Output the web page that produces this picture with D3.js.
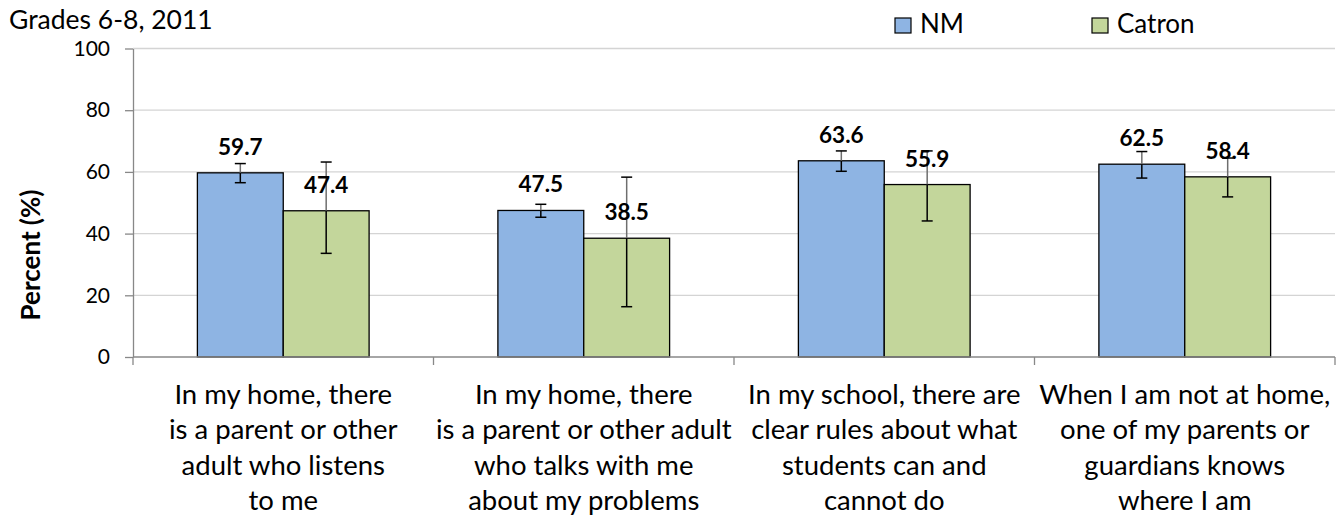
<!DOCTYPE html>
<html>
<head>
<meta charset="utf-8">
<script src="https://cdn.jsdelivr.net/npm/d3@7"></script>
<style>
  html, body { margin: 0; padding: 0; background: #fff; }
  svg { display: block; font-family: Lato, "Open Sans", sans-serif; }
</style>
</head>
<body>
<svg id="chart" width="1343" height="519"></svg>
<script>
// ---- data ----
const categories = [
  ["In my home, there", "is a parent or other", "adult who listens", "to me"],
  ["In my home, there", "is a parent or other adult", "who talks with me", "about my problems"],
  ["In my school, there are", "clear rules about what", "students can and", "cannot do"],
  ["When I am not at home,", "one of my parents or", "guardians knows", "where I am"]
];
const seriesNames = ["NM", "Catron"];
const nmValues = [59.7, 47.5, 63.6, 62.5];
const nmLower = [56.5, 45.3, 60.2, 58.0];
const nmUpper = [62.7, 49.5, 66.8, 66.6];
const catronValues = [47.4, 38.5, 55.9, 58.4];
const catronLower = [33.6, 16.3, 44.1, 51.9];
const catronUpper = [63.2, 58.3, 66.8, 64.5];
const yTicks = [0, 20, 40, 60, 80, 100];
const title = "Grades 6-8, 2011";
const yTitle = "Percent (%)";

const colors = { NM: "#8EB4E3", Catron: "#C3D69B" };

const svg = d3.select("#chart");
const plotLeft = 133, plotRight = 1335, plotTop = 48.5, plotBottom = 357;

const catIdx = categories.map((d, i) => i);
const x0 = d3.scaleBand().domain(catIdx).range([plotLeft, plotRight]).paddingInner(0).paddingOuter(0);
const x1 = d3.scaleBand().domain(seriesNames).range([0, x0.bandwidth()]).paddingInner(0).paddingOuter(0.75);
const y = d3.scaleLinear().domain([0, 100]).range([plotBottom, plotTop]);

const rows = [];
catIdx.forEach(i => {
  rows.push({ cat: i, s: "NM", v: nmValues[i], lo: nmLower[i], hi: nmUpper[i] });
  rows.push({ cat: i, s: "Catron", v: catronValues[i], lo: catronLower[i], hi: catronUpper[i] });
});

// gridlines
svg.append("g").selectAll("line").data(yTicks.filter(t => t > 0)).join("line")
  .attr("x1", plotLeft).attr("x2", plotRight)
  .attr("y1", d => y(d)).attr("y2", d => y(d))
  .attr("stroke", "#d4d4d4").attr("stroke-width", 1.3);

// y axis
const yAxis = svg.append("g").attr("transform", `translate(${plotLeft},0)`)
  .call(d3.axisLeft(y).tickValues(yTicks).tickSize(8).tickPadding(15).tickSizeOuter(0));
yAxis.select(".domain").attr("stroke", "#888").attr("stroke-width", 1.3);
yAxis.selectAll(".tick line").attr("stroke", "#888").attr("stroke-width", 1.3);
yAxis.selectAll(".tick text").attr("font-size", 21).attr("fill", "#000")
  .attr("font-family", "Lato, sans-serif");

// bars
svg.append("g").selectAll("rect").data(rows).join("rect")
  .attr("x", d => x0(d.cat) + x1(d.s))
  .attr("y", d => y(d.v))
  .attr("width", x1.bandwidth())
  .attr("height", d => y(0) - y(d.v))
  .attr("fill", d => colors[d.s])
  .attr("stroke", "#000").attr("stroke-width", 1.3);

// x axis
const xAxisG = svg.append("g");
xAxisG.append("line").attr("x1", plotLeft).attr("x2", plotRight).attr("y1", y(0)).attr("y2", y(0))
  .attr("stroke", "#888").attr("stroke-width", 1.3);
const boundaries = catIdx.map(i => x0(i)).concat([x0(catIdx[catIdx.length - 1]) + x0.bandwidth()]);
xAxisG.selectAll("line.tk").data(boundaries).join("line").attr("class", "tk")
  .attr("x1", d => d).attr("x2", d => d).attr("y1", y(0)).attr("y2", y(0) + 8)
  .attr("stroke", "#888").attr("stroke-width", 1.3);

// x labels
const xl = svg.append("g").selectAll("text").data(categories).join("text")
  .attr("text-anchor", "middle").attr("font-size", 27.5).attr("fill", "#000");
xl.each(function(lines, i) {
  d3.select(this).selectAll("tspan").data(lines).join("tspan")
    .attr("x", x0(i) + x0.bandwidth() / 2)
    .attr("y", (d, j) => 404 + j * 35.4)
    .text(d => d);
});

// error bars
const eb = svg.append("g");
rows.forEach(d => {
  const cx = x0(d.cat) + x1(d.s) + x1.bandwidth() / 2;
  eb.append("line").attr("x1", cx).attr("x2", cx).attr("y1", y(d.hi)).attr("y2", y(d.v))
    .attr("stroke", "#6e6e6e").attr("stroke-width", 1.5);
  eb.append("line").attr("x1", cx).attr("x2", cx).attr("y1", y(d.v)).attr("y2", y(d.lo))
    .attr("stroke", "#000").attr("stroke-width", 1.5);
  [d.hi, d.lo].forEach(v => {
    eb.append("line").attr("x1", cx - 5.5).attr("x2", cx + 5.5).attr("y1", y(v)).attr("y2", y(v))
      .attr("stroke", "#000").attr("stroke-width", 1.5);
  });
});

// data labels
svg.append("g").selectAll("text").data(rows).join("text")
  .attr("x", d => x0(d.cat) + x1(d.s) + x1.bandwidth() / 2)
  .attr("y", d => y(d.v) - 18)
  .attr("text-anchor", "middle").attr("font-size", 22.5).attr("font-weight", "bold")
  .attr("fill", "#000")
  .text(d => d.v.toFixed(1));

// y title
svg.append("text")
  .attr("transform", `translate(40,255) rotate(-90)`)
  .attr("text-anchor", "middle").attr("font-size", 26).attr("font-weight", "bold")
  .text(yTitle);

// title
svg.append("text").attr("x", 9).attr("y", 29).attr("font-size", 26.5).text(title);

// legend
const legendX = [895, 1092];
const lg = svg.append("g").selectAll("g").data(seriesNames).join("g")
  .attr("transform", (d, i) => `translate(${legendX[i]},18)`);
lg.append("rect").attr("width", 16).attr("height", 15)
  .attr("fill", d => colors[d]).attr("stroke", "#000").attr("stroke-width", 1.2);
lg.append("text").attr("x", 25).attr("y", 15).attr("font-size", 26).text(d => d);
</script>
</body>
</html>
